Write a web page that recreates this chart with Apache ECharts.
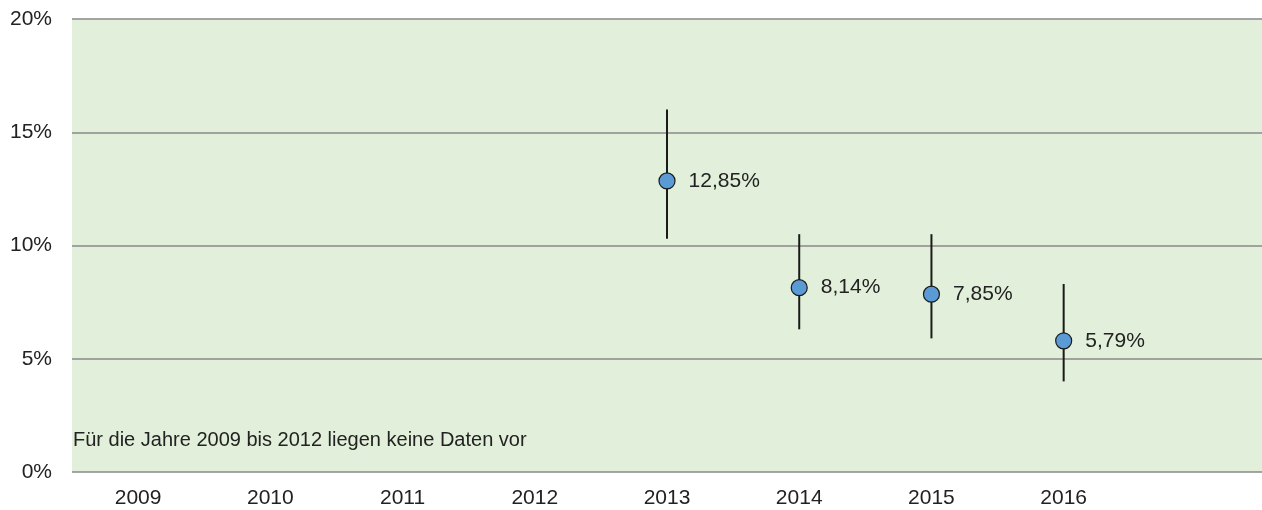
<!DOCTYPE html>
<html>
<head>
<meta charset="utf-8">
<script src="https://cdn.jsdelivr.net/npm/echarts@6/dist/echarts.min.js"></script>
<style>
html,body{margin:0;padding:0;background:#fff;}
#chart{width:1262px;height:510px;}
</style>
</head>
<body>
<div id="chart"></div>
<script>
var years = ['2009','2010','2011','2012','2013','2014','2015','2016',''];
var values = [null,null,null,null,12.85,8.14,7.85,5.79,null];
var lowerBound = [null,null,null,null,10.3,6.3,5.9,4.0,null];
var upperBound = [null,null,null,null,16.0,10.5,10.5,8.3,null];
var yTicks = [0,5,10,15,20];
var note = 'Für die Jahre 2009 bis 2012 liegen keine Daten vor';

var errData = [];
for (var i = 0; i < years.length; i++) {
  if (lowerBound[i] != null) errData.push([i, lowerBound[i], upperBound[i]]);
}
var pointData = values.map(function(v, i){ return v == null ? null : [i, v]; }).filter(function(d){return d;});

var chart = echarts.init(document.getElementById('chart'), null, {renderer:'canvas'});
var FONT = 'Liberation Sans, Arial, sans-serif';
chart.setOption({
  animation: false,
  grid: {left:72, right:-4, top:19, bottom:38, show:true, backgroundColor:'#E2EFDA', borderWidth:0},
  xAxis: {
    type:'category', data: years, boundaryGap:true,
    axisLine:{show:false}, axisTick:{show:false},
    axisLabel:{color:'#222', fontSize:21, fontFamily:FONT, margin:16, interval:0},
    splitLine:{show:false}
  },
  yAxis: {
    type:'value', min:yTicks[0], max:yTicks[yTicks.length-1], interval:5,
    axisLine:{show:false}, axisTick:{show:false},
    axisLabel:{color:'#222', fontSize:21, fontFamily:FONT, margin:20, formatter:'{value}%'},
    splitLine:{show:true, lineStyle:{color:'#888888', width:1.5}}
  },
  graphic: [{
    type:'text', left:73, top:430,
    style:{text:note, fill:'#222', fontSize:20, fontFamily:FONT}
  }],
  series: [
    {
      type:'custom', data: errData, z:2,
      encode:{x:0, y:[1,2]},
      renderItem: function(params, api){
        var lo = api.coord([api.value(0), api.value(1)]);
        var hi = api.coord([api.value(0), api.value(2)]);
        return {type:'line', shape:{x1:lo[0], y1:lo[1], x2:hi[0], y2:hi[1]},
          style:{stroke:'#1a1a1a', lineWidth:2}};
      }
    },
    {
      type:'scatter', data: pointData, z:3,
      symbol:'circle', symbolSize:16,
      itemStyle:{color:'#5B9BD5', borderColor:'#1a1a1a', borderWidth:1.2, opacity:1},
      label:{show:true, position:'right', distance:13, color:'#222', fontSize:21, fontFamily:FONT,
        formatter:function(p){ return p.value[1].toFixed(2).replace('.', ',') + '%'; }}
    }
  ]
});
</script>
</body>
</html>
